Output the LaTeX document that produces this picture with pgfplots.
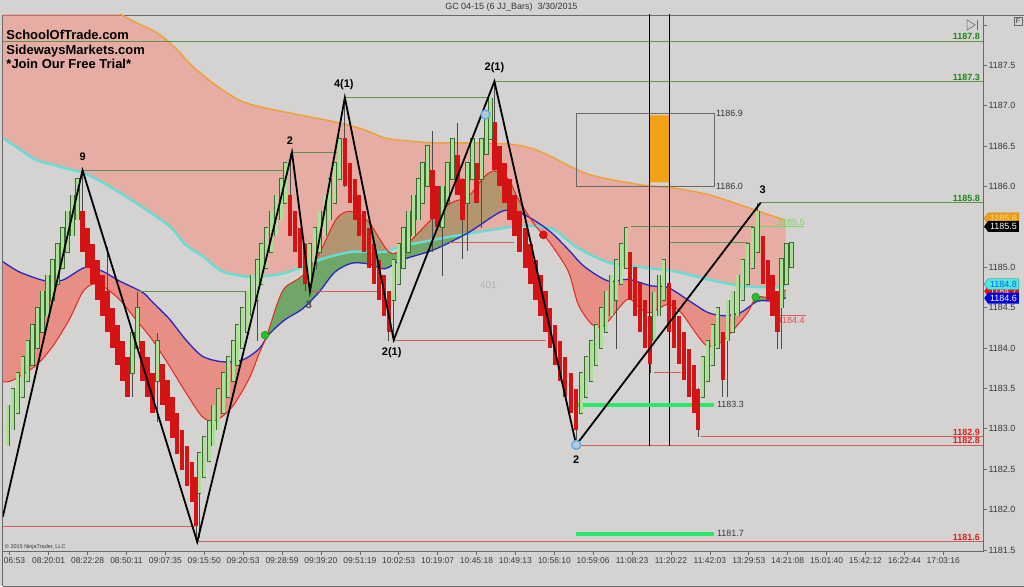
\documentclass[border=0pt]{standalone}
\usepackage{fontspec}
\setmainfont{Liberation Sans}
\usepackage{xcolor}
\usepackage{pgfplots}
\usepackage{pgfplotstable}
\pgfplotsset{compat=1.18}
\usepgfplotslibrary{fillbetween}
\usetikzlibrary{shapes.symbols}

\newcommand\fs[1]{\fontsize{#1}{#1}\selectfont}

\definecolor{bgc}{RGB}{213,211,209}
\definecolor{framec}{RGB}{105,105,105}
\definecolor{labc}{RGB}{55,55,55}
\definecolor{coral}{RGB}{246,136,118}
\definecolor{lowpink}{RGB}{231,143,133}
\definecolor{lowgreen}{RGB}{112,166,104}
\definecolor{maorange}{RGB}{238,160,50}
\definecolor{macyan}{RGB}{100,222,212}
\definecolor{mablue}{RGB}{40,40,190}
\definecolor{mared}{RGB}{228,40,30}
\definecolor{barred}{RGB}{212,20,20}
\definecolor{bargreen}{RGB}{172,224,150}
\definecolor{baredge}{RGB}{60,105,50}
\definecolor{wickc}{RGB}{75,75,75}
\definecolor{hiline}{RGB}{95,145,80}
\definecolor{loline}{RGB}{205,95,95}
\definecolor{lbgreen}{RGB}{30,135,30}
\definecolor{lbred}{RGB}{215,35,35}
\definecolor{neon}{RGB}{40,232,110}
\definecolor{boxorange}{RGB}{242,160,20}
\definecolor{dotgreen}{RGB}{40,190,40}
\definecolor{dotred}{RGB}{220,20,20}
\definecolor{ringc}{RGB}{90,175,230}
\definecolor{paleg}{RGB}{120,215,100}

% moving averages (x in bar pixels, price)
\pgfplotstableread{
x y
0 1189.05
60 1188.62
120 1188.12
155 1187.90
175 1187.69
190 1187.49
213 1187.26
237 1187.07
260 1186.98
300 1186.88
333 1186.80
350 1186.75
367 1186.68
383 1186.60
400 1186.57
433 1186.54
467 1186.54
500 1186.53
517 1186.51
533 1186.46
550 1186.37
567 1186.26
583 1186.17
600 1186.11
640 1186.02
673 1185.98
707 1185.90
740 1185.77
773 1185.63
785 1185.58
}\orangeT

\pgfplotstableread{
x y
0 1186.60
17 1186.46
33 1186.33
50 1186.27
67 1186.21
80 1186.17
100 1186.05
133 1185.80
167 1185.51
183 1185.28
200 1185.14
220 1184.95
247 1184.88
270 1184.90
283 1184.93
300 1185.00
320 1185.10
350 1185.19
383 1185.19
400 1185.26
450 1185.38
500 1185.48
520 1185.51
550 1185.48
575 1185.25
607 1185.06
640 1185.00
673 1184.95
707 1184.85
740 1184.77
773 1184.75
785 1184.78
}\cyanT

\pgfplotstableread{
x y
0 1185.07
17 1184.94
43 1184.83
60 1184.84
83 1185.00
100 1184.95
117 1184.83
140 1184.69
150 1184.57
167 1184.36
183 1184.11
200 1183.90
220 1183.83
240 1183.85
257 1183.99
267 1184.17
283 1184.35
300 1184.48
317 1184.69
333 1184.94
350 1185.05
367 1185.04
383 1184.98
400 1185.09
433 1185.22
467 1185.43
500 1185.69
517 1185.68
533 1185.58
550 1185.43
567 1185.22
583 1185.01
607 1184.83
627 1184.85
650 1184.77
667 1184.75
690 1184.57
707 1184.44
723 1184.40
740 1184.44
757 1184.58
773 1184.58
785 1184.62
}\blueT

\pgfplotstableread{
x y
0 1183.58
10 1183.60
33 1183.78
50 1184.02
67 1184.36
80 1184.69
90 1184.79
100 1184.77
117 1184.60
133 1184.36
150 1184.10
167 1183.78
183 1183.46
200 1183.15
213 1183.10
230 1183.27
247 1183.62
257 1183.93
265 1184.16
275 1184.54
283 1184.75
300 1184.89
317 1185.16
333 1185.57
343 1185.68
353 1185.68
367 1185.56
387 1185.19
400 1185.22
417 1185.43
433 1185.63
450 1185.80
467 1185.88
483 1186.12
493 1186.19
507 1186.09
517 1185.84
533 1185.53
542 1185.40
550 1185.28
567 1184.95
577 1184.54
590 1184.30
600 1184.26
607 1184.33
623 1184.57
630 1184.60
640 1184.48
650 1184.44
667 1184.54
680 1184.44
697 1184.15
707 1184.02
720 1184.07
733 1184.23
747 1184.44
756 1184.63
773 1184.62
785 1184.72
}\redT

% JJ bars: open / close
\pgfplotstableread{
x o c
5 1182.8 1183.3
10 1183.0 1183.5
15 1183.2 1183.7
20 1183.4 1183.9
25 1183.6 1184.1
30 1183.8 1184.3
35 1184.0 1184.5
40 1184.2 1184.7
45 1184.4 1184.9
50 1184.6 1185.1
55 1184.8 1185.3
60 1185.0 1185.5
65 1185.2 1185.7
70 1185.4 1185.9
75 1185.6 1186.1
130 1183.7 1184.2
135 1184.0 1184.5
155 1183.6 1184.1
197 1182.2 1182.7
202 1182.4 1182.9
207 1182.6 1183.1
211 1182.8 1183.3
216 1183.0 1183.5
221 1183.2 1183.7
226 1183.4 1183.9
231 1183.6 1184.1
235 1183.8 1184.3
240 1184.0 1184.5
245 1184.2 1184.7
250 1184.4 1184.9
255 1184.6 1185.1
259 1184.8 1185.3
264 1185.0 1185.5
269 1185.2 1185.7
274 1185.4 1185.9
279 1185.6 1186.1
283 1185.8 1186.3
308 1184.8 1185.3
313 1185.0 1185.5
318 1185.2 1185.7
323 1185.4 1185.9
328 1185.6 1186.1
333 1185.8 1186.3
338 1186.1 1186.6
392 1184.6 1185.1
397 1184.8 1185.3
402 1185.0 1185.5
407 1185.2 1185.7
412 1185.4 1185.9
417 1185.6 1186.1
421 1185.8 1186.3
426 1186.0 1186.5
441 1185.5 1186.0
446 1185.8 1186.3
451 1186.1 1186.6
466 1185.8 1186.3
471 1186.1 1186.6
480 1186.1 1186.6
485 1186.4 1186.9
489 1186.6 1187.1
580 1183.2 1183.7
585 1183.4 1183.9
590 1183.6 1184.1
595 1183.8 1184.3
600 1184.0 1184.5
605 1184.2 1184.7
610 1184.4 1184.9
615 1184.6 1185.1
620 1184.8 1185.3
625 1185.0 1185.5
653 1184.1 1184.7
658 1184.4 1184.9
663 1184.6 1185.1
702 1183.4 1183.9
707 1183.6 1184.1
712 1183.8 1184.3
717 1184.0 1184.5
727 1184.1 1184.6
732 1184.2 1184.7
737 1184.4 1184.9
742 1184.6 1185.1
747 1184.8 1185.3
752 1185.0 1185.5
757 1185.2 1185.7
781 1184.5 1185.1
786 1184.8 1185.3
791 1185.0 1185.3
}\greenbars

\pgfplotstableread{
x o c
80 1185.7 1185.2
85 1185.5 1185.0
90 1185.3 1184.8
95 1185.1 1184.6
100 1184.9 1184.4
105 1184.7 1184.2
110 1184.5 1184.0
115 1184.3 1183.8
120 1184.1 1183.6
125 1183.9 1183.4
140 1184.1 1183.6
145 1183.9 1183.4
150 1183.7 1183.2
160 1183.8 1183.3
165 1183.6 1183.1
170 1183.4 1182.9
175 1183.2 1182.7
180 1183.0 1182.5
185 1182.8 1182.3
190 1182.6 1182.1
194 1182.4 1181.8
288 1185.9 1185.4
293 1185.7 1185.2
298 1185.5 1185.0
303 1185.3 1184.8
343 1186.6 1186.0
348 1186.3 1185.8
353 1186.1 1185.6
357 1185.9 1185.4
362 1185.7 1185.2
367 1185.5 1185.0
372 1185.3 1184.8
377 1185.1 1184.6
382 1184.9 1184.4
387 1184.7 1184.2
431 1186.2 1185.6
436 1186.0 1185.5
456 1186.4 1185.9
461 1186.1 1185.6
475 1186.3 1185.8
493 1186.8 1186.2
498 1186.5 1186.0
503 1186.3 1185.8
508 1186.1 1185.6
513 1185.9 1185.4
518 1185.7 1185.2
524 1185.5 1185.0
529 1185.3 1184.8
534 1185.1 1184.6
539 1184.9 1184.4
544 1184.7 1184.2
549 1184.5 1184.0
554 1184.3 1183.8
559 1184.1 1183.6
564 1183.9 1183.4
570 1183.7 1183.2
575 1183.5 1183.0
629 1185.2 1184.6
634 1185.0 1184.4
639 1184.8 1184.2
644 1184.6 1184.0
649 1184.4 1183.8
668 1184.8 1184.2
673 1184.6 1184.0
678 1184.4 1183.8
683 1184.2 1183.6
688 1184.0 1183.4
693 1183.8 1183.2
697 1183.5 1183.0
722 1184.2 1183.6
762 1185.4 1184.8
767 1185.1 1184.6
772 1184.9 1184.4
777 1184.7 1184.2
}\redbars

\pgfplotstableread{
x h l
80 1186.2 1185.2
105 1185.25 1184.2
130 1184.2 1183.4
135 1184.7 1184.0
155 1184.2 1183.1
194 1182.4 1181.6
197 1182.7 1181.65
255 1185.1 1184.1
288 1186.42 1185.4
303 1185.3 1184.7
343 1187.1 1186.0
387 1184.7 1184.1
392 1185.1 1184.1
431 1186.7 1185.2
441 1186.0 1184.9
456 1186.8 1185.9
461 1186.1 1185.1
466 1186.3 1185.2
480 1186.6 1185.5
493 1187.3 1186.2
575 1183.5 1182.8
615 1185.1 1184.0
649 1184.4 1183.7
697 1183.5 1182.9
722 1184.2 1183.4
727 1184.6 1183.4
757 1185.8 1185.2
777 1184.7 1184.0
781 1185.1 1184.0
}\wicks

\pgfplotsset{candle/.style={only marks, mark=none, mark size=0pt,
  mark options={draw=none, fill=none},
  error bars/.cd, y dir=both, y explicit, error mark=none}}

\begin{document}
\pagecolor{bgc}
\begin{tikzpicture}
\begin{axis}[
  at={(0pt,0pt)}, anchor=south west,
  scale only axis, width=983pt, height=538pt,
  xmin=0, xmax=983, ymin=1181.481, ymax=1188.123,
  axis line style={draw=framec, line width=0.8pt},
  xtick={7,46,85,124,163,202,241,280,319,358,397,436,475,514,553,592,631,670,709,748,787,826,865,904,943},
  xticklabels={{},08:20:01,08:22:28,08:50:11,09:07:35,09:15:50,09:20:53,09:28:59,09:39:20,09:51:19,10:02:53,10:19:07,10:45:18,10:49:13,10:56:10,10:59:06,11:08:23,11:20:22,11:42:03,13:29:53,14:21:08,15:01:40,15:42:12,16:22:44,17:03:16},
  ytick={1181.5,1182,1182.5,1183,1183.5,1184,1184.5,1185,1185.5,1186,1186.5,1187,1187.5,1188},
  yticklabels={1181.5,1182.0,1182.5,1183.0,1183.5,1184.0,1184.5,1185.0,1185.5,1186.0,1186.5,1187.0,1187.5,{}},
  yticklabel pos=right, ytick pos=right, xtick pos=bottom,
  tick align=outside, major tick length=4pt,
  tick style={draw=framec, line width=0.6pt},
  xticklabel style={font=\fs{8.5}, text=labc, yshift=1pt},
  yticklabel style={font=\fs{9}, text=labc, xshift=-2pt},
]
% named paths for the bands
\addplot[draw=none, smooth, name path=O] table {\orangeT};
\addplot[draw=none, smooth, name path=C] table {\cyanT};
\addplot[draw=none, smooth, name path=B] table {\blueT};
\addplot[draw=none, smooth, name path=R] table {\redT};

\addplot[fill=lowpink, draw=none] fill between[of=B and R, soft clip={(0,1181.4) rectangle (264,1188.3)}];
\addplot[fill=lowgreen, draw=none] fill between[of=B and R, soft clip={(264,1181.4) rectangle (527,1188.3)}];
\addplot[fill=lowpink, draw=none] fill between[of=B and R, soft clip={(527,1181.4) rectangle (752,1188.3)}];
\addplot[fill=lowgreen, draw=none] fill between[of=B and R, soft clip={(752,1181.4) rectangle (790,1188.3)}];
\addplot[fill=coral, fill opacity=0.5, draw=none] fill between[of=O and C];

\addplot[macyan, line width=2.4pt, smooth] table {\cyanT};
\addplot[maorange, line width=1.4pt, smooth] table {\orangeT};
\addplot[mablue, line width=1.3pt, smooth] table {\blueT};
\addplot[mared, line width=1pt, smooth] table {\redT};

% swing levels
\addplot[hiline, line width=0.8pt] coordinates {(0,1187.8)(983,1187.8)};
\addplot[hiline, line width=0.8pt] coordinates {(493,1187.3)(983,1187.3)};
\addplot[hiline, line width=0.8pt] coordinates {(760,1185.8)(983,1185.8)};
\addplot[hiline, line width=0.7pt] coordinates {(80,1186.2)(283,1186.2)};
\addplot[hiline, line width=0.7pt] coordinates {(290,1186.42)(335,1186.42)};
\addplot[hiline, line width=0.7pt] coordinates {(343,1187.1)(487,1187.1)};
\addplot[hiline, line width=0.7pt] coordinates {(138,1184.7)(245,1184.7)};
\addplot[hiline, line width=0.7pt] coordinates {(630,1185.5)(753,1185.5)};
\addplot[hiline, line width=0.7pt] coordinates {(668,1185.31)(747,1185.31)};
\addplot[paleg, line width=0.7pt] coordinates {(757,1185.5)(803,1185.5)};
\addplot[loline, line width=0.8pt] coordinates {(0,1181.79)(193,1181.79)};
\addplot[loline, line width=0.8pt] coordinates {(195,1181.6)(983,1181.6)};
\addplot[loline, line width=0.8pt] coordinates {(575,1182.8)(983,1182.8)};
\addplot[loline, line width=0.8pt] coordinates {(700,1182.9)(983,1182.9)};
\addplot[loline, line width=0.7pt] coordinates {(308,1184.7)(375,1184.7)};
\addplot[loline, line width=0.7pt] coordinates {(392,1184.1)(545,1184.1)};
\addplot[loline, line width=0.7pt] coordinates {(447,1185.31)(513,1185.31)};
\addplot[loline, line width=0.7pt] coordinates {(653,1183.7)(680,1183.7)};
\addplot[loline, line width=0.7pt] coordinates {(772,1184.4)(805,1184.4)};

% box and markers of the order zone
\addplot[draw=framec, line width=0.7pt] coordinates {(575,1186.0)(713,1186.0)(713,1186.9)(575,1186.9)(575,1186.0)};
\addplot[fill=boxorange, draw=none] coordinates {(649,1186.05)(668,1186.05)(668,1186.88)(649,1186.88)(649,1186.05)};
\addplot[black, line width=0.7pt] coordinates {(648,1188.2)(648,1182.79)};
\addplot[black, line width=0.7pt] coordinates {(668,1188.2)(668,1182.79)};
\addplot[neon, line width=4pt] coordinates {(575,1183.3)(713,1183.3)};
\addplot[neon, line width=4pt] coordinates {(575,1181.7)(713,1181.7)};

% bars
\addplot[candle, error bar style={draw=wickc, line width=0.7pt}]
  table[x=x, y expr=(\thisrow{h}+\thisrow{l})/2, y error expr=(\thisrow{h}-\thisrow{l})/2] {\wicks};
\addplot[candle, error bar style={draw=barred, line width=4.4pt}]
  table[x=x, y expr=(\thisrow{o}+\thisrow{c})/2, y error expr=abs(\thisrow{o}-\thisrow{c})/2] {\redbars};
\addplot[candle, error bar style={draw=baredge, line width=4.4pt}]
  table[x=x, y expr=(\thisrow{o}+\thisrow{c})/2, y error expr=abs(\thisrow{c}-\thisrow{o})/2+0.009] {\greenbars};
\addplot[candle, error bar style={draw=bargreen, line width=3.0pt}]
  table[x=x, y expr=(\thisrow{o}+\thisrow{c})/2, y error expr=abs(\thisrow{c}-\thisrow{o})/2] {\greenbars};

% zigzag
\addplot[black, line width=1.8pt] coordinates {(0,1181.91)(80,1186.2)(195,1181.6)(290,1186.42)(308,1184.7)(343,1187.1)(392,1184.1)(493,1187.3)(575,1182.8)(760,1185.8)};

% signal dots
\addplot[only marks, mark=*, mark size=4pt, mark options={fill=dotgreen, draw=dotgreen!70!black}] coordinates {(263,1184.16)(755,1184.63)};
\addplot[only marks, mark=*, mark size=4pt, mark options={fill=dotred, draw=dotred!70!black}] coordinates {(542,1185.40)};
\addplot[only marks, mark=*, mark size=4.5pt, mark options={fill=ringc!25!bgc, draw=ringc, line width=1.4pt}] coordinates {(484,1186.89)(575,1182.80)};

% labels
\node[font=\fs{9}\bfseries, text=lbgreen, anchor=south east, inner sep=1pt] at (axis cs:981,1187.8) {1187.8};
\node[font=\fs{9}\bfseries, text=lbgreen, anchor=south east, inner sep=1pt] at (axis cs:981,1187.3) {1187.3};
\node[font=\fs{9}\bfseries, text=lbgreen, anchor=south east, inner sep=1pt] at (axis cs:981,1185.8) {1185.8};
\node[font=\fs{9}\bfseries, text=lbred, anchor=south east, inner sep=1pt] at (axis cs:981,1182.9) {1182.9};
\node[font=\fs{9}\bfseries, text=lbred, anchor=south east, inner sep=1pt] at (axis cs:981,1182.8) {1182.8};
\node[font=\fs{9}\bfseries, text=lbred, anchor=south east, inner sep=1pt] at (axis cs:981,1181.6) {1181.6};
\node[font=\fs{9}, text=labc, anchor=west, inner sep=1pt] at (axis cs:714,1186.9) {1186.9};
\node[font=\fs{9}, text=labc, anchor=west, inner sep=1pt] at (axis cs:714,1186.0) {1186.0};
\node[font=\fs{9}, text=labc, anchor=west, inner sep=1pt] at (axis cs:715,1183.3) {1183.3};
\node[font=\fs{9}, text=labc, anchor=west, inner sep=1pt] at (axis cs:715,1181.7) {1181.7};
\node[font=\fs{9}, text=paleg, anchor=south west, inner sep=1pt] at (axis cs:776,1185.5) {1185.5};
\node[font=\fs{9}, text=lbred!80, anchor=north west, inner sep=1pt] at (axis cs:776,1184.4) {1184.4};
\node[font=\fs{10}, text=black!30] at (axis cs:487,1184.78) {401};
\node[font=\fs{11}\bfseries] at (axis cs:80,1186.37) {9};
\node[font=\fs{11}\bfseries] at (axis cs:288,1186.57) {2};
\node[font=\fs{11}\bfseries, text=black!70] at (axis cs:307,1184.53) {3};
\node[font=\fs{11}\bfseries] at (axis cs:342,1187.26) {4(1)};
\node[font=\fs{11}\bfseries] at (axis cs:390,1183.94) {2(1)};
\node[font=\fs{11}\bfseries] at (axis cs:493,1187.47) {2(1)};
\node[font=\fs{11}\bfseries] at (axis cs:575,1182.62) {2};
\node[font=\fs{11}\bfseries] at (axis cs:762,1185.96) {3};
\end{axis}

% texts and tags around the chart (1pt = 1px, y = 553 - pixel row)
\draw[framec, line width=0.8pt] (983pt,538pt) -- (1024pt,538pt);
\node[anchor=west, font=\fs{8.5}, text=labc, inner sep=0pt] at (1pt,-9pt) {06:53};
\node[font=\fs{9}, text=labc] at (510pt,546pt) {GC 04-15 (6 JJ\_Bars)\ \ 3/30/2015};
\node[anchor=base west, font=\fs{13}\bfseries, inner sep=0pt] at (3.5pt,513pt) {SchoolOfTrade.com};
\node[anchor=base west, font=\fs{13}\bfseries, inner sep=0pt] at (3.5pt,498pt) {SidewaysMarkets.com};
\node[anchor=base west, font=\fs{13}\bfseries, inner sep=0pt] at (3.5pt,484pt) {*Join Our Free Trial*};
\node[anchor=west, font=\fs{5.5}, text=labc, inner sep=0pt] at (2pt,4.5pt) {© 2015 NinjaTrader, LLC};
\draw[framec, line width=0.6pt] (967pt,533pt) -- (975pt,528pt) -- (967pt,523pt) -- cycle;
\draw[framec, line width=0.8pt] (977pt,533pt) -- (977pt,523pt);
\node[draw=framec, font=\fs{7}, text=labc, inner sep=1pt, minimum width=8pt, minimum height=8pt] at (1018pt,532pt) {F};
\tikzset{tag/.style={signal, signal to=west, signal pointer angle=110, anchor=east,
  minimum height=11pt, inner xsep=2pt, inner ysep=0.5pt, font=\fs{9}}}
\node[tag, fill=boxorange, draw=boxorange!80!black, text=boxorange!50!white] at (1019pt,334pt) {1185.6};
\node[tag, fill=black, text=white] at (1019pt,326pt) {1185.5};
\node[tag, fill=dotred, text=white] at (1019pt,261pt) {1184.7};
\node[tag, fill=macyan!80!cyan, draw=macyan!60!black, text=blue!60!cyan] at (1019pt,268pt) {1184.8};
\node[tag, fill=blue!85!black, text=white] at (1019pt,254pt) {1184.6};
\draw[framec, line width=1.4pt] (0,-35pt) -- (1024pt,-35pt);
\draw[framec, line width=1.4pt] (0,-35pt) -- (0,0);
\pgfresetboundingbox
\path[use as bounding box] (0,-35pt) rectangle (1024pt,553pt);
\end{tikzpicture}
\end{document}
